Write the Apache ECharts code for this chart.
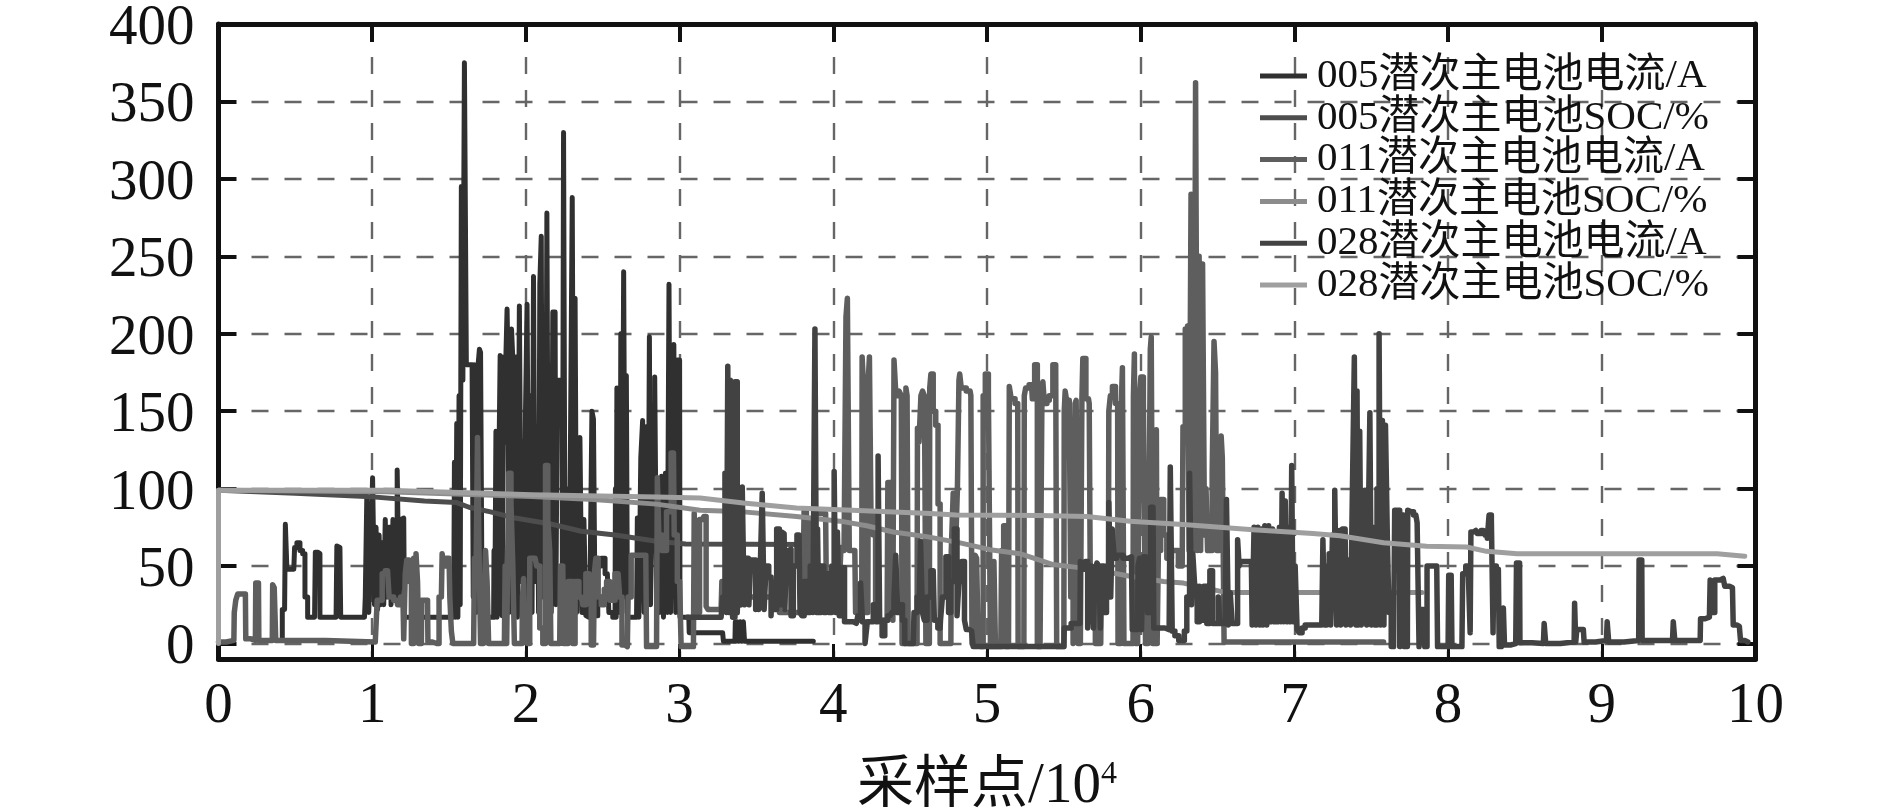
<!DOCTYPE html>
<html>
<head>
<meta charset="utf-8">
<style>html,body{margin:0;padding:0;background:#fff}#c{width:1890px;height:810px}</style>
<script src="https://cdn.jsdelivr.net/npm/echarts@6/dist/echarts.min.js"></script>
</head>
<body>
<div id="c"></div>
<script>
const seriesNames = ['005潜次主电池电流/A','005潜次主电池SOC/%','011潜次主电池电流/A','011潜次主电池SOC/%','028潜次主电池电流/A','028潜次主电池SOC/%'];
const yTicks = [0,50,100,150,200,250,300,350,400];

const current005 = [[0.4,2],[0.43,22],[0.44,77],[0.45,48],[0.49,48],[0.5,62],[0.52,65],[0.54,60],[0.555,58],[0.57,30],[0.59,17],[0.625,17],[0.635,59],[0.655,58],[0.665,17],[0.765,17],[0.775,63],[0.79,62],[0.80,17],[0.95,17],[0.96,30],[0.97,95],[0.985,20],[0.995,60],[1.01,107],[1.02,25],[1.03,75],[1.04,22],[1.05,70],[1.06,25],[1.07,65],[1.08,25],[1.09,80],[1.10,30],[1.115,75],[1.13,25],[1.14,80],[1.155,30],[1.17,112],[1.18,30],[1.19,80],[1.205,81],[1.215,17],[1.33,17],[1.53,17],[1.54,117],[1.545,17],[1.555,142],[1.56,17],[1.57,160],[1.575,25],[1.585,295],[1.595,170],[1.605,375],[1.62,180],[1.645,180],[1.655,176],[1.66,30],[1.67,180],[1.68,20],[1.695,178],[1.70,190],[1.71,188],[1.72,20],[1.735,17],[1.79,17],[1.795,60],[1.80,17],[1.81,137],[1.815,17],[1.83,100],[1.835,186],[1.84,186],[1.85,18],[1.86,185],[1.865,130],[1.875,186],[1.88,216],[1.885,186],[1.895,20],[1.90,190],[1.913,203],[1.92,180],[1.93,18],[1.94,185],[1.95,17],[1.965,218],[1.975,40],[1.985,130],[1.995,17],[2.0,150],[2.015,219],[2.025,30],[2.035,160],[2.045,20],[2.054,237],[2.065,40],[2.08,140],[2.085,20],[2.096,232],[2.104,263],[2.11,30],[2.125,190],[2.13,25],[2.143,278],[2.15,30],[2.16,150],[2.17,20],[2.18,214],[2.19,214],[2.2,25],[2.21,170],[2.22,170],[2.235,170],[2.24,30],[2.25,330],[2.26,25],[2.275,100],[2.285,20],[2.295,130],[2.308,288],[2.315,30],[2.325,223],[2.335,20],[2.345,110],[2.358,133],[2.37,20],[2.385,80],[2.395,18],[2.41,17],[2.425,40],[2.434,150],[2.445,145],[2.455,18],[2.48,50],[2.5,55],[2.53,45],[2.55,20],[2.58,17],[2.585,100],[2.59,17],[2.594,165],[2.6,20],[2.61,165],[2.615,20],[2.62,200],[2.63,20],[2.642,240],[2.65,30],[2.657,173],[2.665,17],[2.72,17],[2.73,81],[2.74,17],[2.755,120],[2.764,144],[2.775,20],[2.79,140],[2.8,25],[2.807,198],[2.815,25],[2.83,120],[2.846,172],[2.855,25],[2.865,90],[2.875,20],[2.89,108],[2.9,17],[2.915,110],[2.925,20],[2.937,232],[2.945,20],[2.955,150],[2.97,193],[2.98,20],[2.99,183],[3.0,183],[3.005,17],[3.06,17],[3.065,7],[3.28,7],[3.29,1.5],[3.36,1.5],[3.365,14],[3.37,1.5],[3.38,14],[3.39,1.5],[3.4,14],[3.41,1.5],[3.42,14],[3.425,1.5],[3.87,1.5]];

const soc005 = [[0,99],[0.5,97],[0.96,95],[1.34,92],[1.55,91],[1.63,88],[1.77,85],[1.93,81],[2.17,77],[2.36,72.5],[2.58,70],[2.85,66],[3.04,64.3],[3.87,64]];

const current011 = [[0,1],[0.1,2],[0.105,20],[0.12,28],[0.13,32],[0.175,32],[0.18,3],[0.24,2],[0.245,39],[0.26,39],[0.265,2],[0.35,2],[0.355,38],[0.37,36],[0.375,2],[1.02,1],[1.03,1],[1.035,28],[1.06,28],[1.07,45],[1.1,47],[1.12,30],[1.16,28],[1.17,25],[1.2,30],[1.21,3],[1.22,45],[1.23,54],[1.25,40],[1.26,0],[1.28,55],[1.29,58],[1.30,40],[1.305,0],[1.32,0],[1.325,28],[1.36,28],[1.365,1],[1.42,0],[1.45,30],[1.46,58],[1.475,50],[1.49,55],[1.5,55],[1.51,30],[1.52,8],[1.53,0],[1.66,0],[1.67,55],[1.68,40],[1.69,133],[1.70,60],[1.71,0],[1.735,0],[1.74,60],[1.755,40],[1.76,0],[1.86,0],[1.87,50],[1.88,0],[1.896,110],[1.91,90],[1.92,50],[1.93,0],[1.975,0],[1.98,30],[1.99,42],[2.0,5],[2.02,0],[2.03,55],[2.06,55],[2.08,50],[2.1,10],[2.12,0],[2.135,115],[2.15,80],[2.16,60],[2.165,0],[2.22,0],[2.23,50],[2.24,50],[2.25,0],[2.27,0],[2.28,40],[2.3,40],[2.31,0],[2.33,40],[2.36,30],[2.38,25],[2.4,45],[2.42,40],[2.43,-1],[2.44,-1],[2.45,45],[2.46,55],[2.48,30],[2.5,25],[2.52,35],[2.53,40],[2.56,28],[2.6,45],[2.62,30],[2.63,-1],[2.66,-2],[2.67,30],[2.7,57],[2.78,57],[2.79,-2],[2.85,-2],[2.86,107],[2.87,70],[2.9,60],[2.93,85],[2.96,123],[2.97,70],[3.0,40],[3.02,-2],[3.09,-2],[3.1,84],[3.11,20],[3.15,80],[3.165,82],[3.18,24],[3.19,22],[3.27,22],[3.28,40],[3.3,25],[3.5,30],[3.8,20],[3.82,86],[3.83,30],[3.86,80],[3.87,30],[3.9,84],[3.95,84],[3.96,30],[4.0,30],[4.04,40],[4.06,62],[4.08,60],[4.085,211],[4.098,223],[4.11,60],[4.14,60],[4.15,20],[4.185,15],[4.19,185],[4.2,170],[4.205,20],[4.225,20],[4.23,170],[4.24,185],[4.25,85],[4.27,70],[4.28,15],[4.35,15],[4.36,104],[4.385,90],[4.39,15],[4.40,183],[4.415,160],[4.44,163],[4.445,160],[4.45,0],[4.47,0],[4.475,165],[4.485,160],[4.49,0],[4.52,0],[4.545,0],[4.55,139],[4.565,130],[4.575,160],[4.586,163],[4.6,160],[4.605,0],[4.625,0],[4.63,165],[4.64,174],[4.66,150],[4.673,141],[4.69,90],[4.7,0],[4.765,0],[4.77,60],[4.79,97],[4.8,60],[4.815,100],[4.82,170],[4.825,174],[4.84,165],[4.89,163],[4.9,160],[4.905,0],[4.92,0],[4.925,57],[4.94,55],[4.945,0],[4.97,-2],[4.98,160],[4.998,174],[5.02,162],[5.025,-2],[5.04,-2],[5.05,53],[5.06,-2],[5.09,-2],[5.1,60],[5.117,76],[5.13,-2],[5.14,-2],[5.15,166],[5.165,158],[5.2,155],[5.205,-2],[5.24,-2],[5.245,160],[5.258,165],[5.29,167],[5.3,158],[5.32,180],[5.335,-2],[5.355,-2],[5.36,160],[5.367,169],[5.38,155],[5.4,157],[5.41,160],[5.447,180],[5.46,-2],[5.5,-2],[5.505,150],[5.512,163],[5.53,155],[5.54,157],[5.55,30],[5.57,0],[5.575,155],[5.585,157],[5.6,0],[5.615,0],[5.62,158],[5.627,184],[5.66,158],[5.67,155],[5.675,30],[5.70,30],[5.71,0],[5.74,0],[5.745,30],[5.79,30],[5.795,150],[5.81,160],[5.822,166],[5.85,155],[5.855,0],[5.87,0],[5.875,150],[5.887,178],[5.895,0],[5.95,0],[5.955,160],[5.963,187],[5.97,0],[5.99,0],[5.995,160],[6.007,172],[6.028,156],[6.035,0],[6.06,0],[6.065,190],[6.072,198],[6.085,0],[6.1,130],[6.104,138],[6.11,0],[6.12,60],[6.14,93],[6.16,70],[6.18,55],[6.22,60],[6.27,50],[6.28,140],[6.30,203],[6.31,205],[6.32,60],[6.335,290],[6.345,205],[6.35,60],[6.364,362],[6.375,60],[6.385,250],[6.395,60],[6.41,245],[6.42,70],[6.43,100],[6.44,60],[6.46,60],[6.47,110],[6.484,195],[6.49,175],[6.5,60],[6.52,120],[6.527,134],[6.535,120],[6.55,1],[6.56,1],[7.58,1]];

const soc011 = [[0,99],[1.09,98],[2.04,95],[2.44,93],[2.85,90],[3.133,86],[3.415,85],[3.76,82],[4.044,79],[4.218,76],[4.39,72],[4.608,69],[4.825,65],[5.02,60.6],[5.215,58],[5.43,51],[5.6,49],[5.844,45],[5.93,43.4],[6.148,40],[6.278,39],[6.55,33],[7.83,33]];

const current028 = [[3.05,17],[3.27,17],[3.29,30],[3.30,110],[3.31,20],[3.317,179],[3.325,20],[3.335,170],[3.34,120],[3.35,17],[3.37,169],[3.38,20],[3.39,50],[3.40,25],[3.415,101],[3.425,25],[3.435,55],[3.447,55],[3.455,25],[3.47,54],[3.49,54],[3.5,22],[3.51,45],[3.52,22],[3.53,50],[3.545,97],[3.555,22],[3.57,50],[3.59,43],[3.6,18],[3.61,40],[3.62,22],[3.643,74],[3.655,25],[3.67,72],[3.68,71],[3.69,22],[3.7,60],[3.72,61],[3.73,18],[3.75,50],[3.777,70],[3.79,20],[3.8,18],[3.82,40],[3.84,20],[3.86,50],[3.875,20],[3.886,203],[3.895,20],[3.9,74],[3.91,20],[3.93,50],[3.946,20],[3.96,45],[3.98,20],[4.0,50],[4.011,111],[4.02,20],[4.033,72],[4.045,18],[4.066,49],[4.08,14],[4.13,14],[4.15,13],[4.17,18],[4.185,39],[4.195,14],[4.218,0],[4.225,14],[4.25,14],[4.27,25],[4.285,14],[4.298,121],[4.305,15],[4.33,5],[4.34,15],[4.37,18],[4.39,20],[4.4,30],[4.413,57],[4.425,20],[4.44,25],[4.46,15],[4.47,0],[4.52,0],[4.53,20],[4.56,30],[4.575,66],[4.585,20],[4.6,15],[4.62,30],[4.65,47],[4.665,15],[4.695,10],[4.7,15],[4.72,30],[4.745,56],[4.755,20],[4.775,40],[4.8,74],[4.81,18],[4.825,40],[4.847,53],[4.86,15],[4.87,9],[4.9,8],[4.92,-2],[5.5,-2],[5.505,10],[5.59,13],[5.605,13],[5.61,53],[5.63,48],[5.65,53],[5.66,10],[5.67,50],[5.69,48],[5.695,10],[5.71,45],[5.72,52],[5.735,50],[5.74,10],[5.75,50],[5.77,20],[5.785,50],[5.8,91],[5.81,30],[5.82,74],[5.835,55],[5.85,57],[5.87,57],[5.9,55],[5.94,56],[5.95,9],[5.98,9],[5.985,50],[6.0,55],[6.01,9],[6.025,56],[6.04,56],[6.05,20],[6.08,88],[6.09,10],[6.115,10],[6.13,10],[6.185,9],[6.2,114],[6.21,8],[6.235,5],[6.26,2],[6.278,2],[6.29,8],[6.31,30],[6.326,110],[6.335,25],[6.343,58],[6.36,37],[6.375,14],[6.39,37],[6.4,15],[6.42,37],[6.44,13],[6.46,47],[6.475,13],[6.5,13],[6.51,30],[6.52,13],[6.55,13],[6.566,93],[6.575,12],[6.59,33],[6.6,13],[6.625,13],[6.636,67],[6.645,50],[6.657,53],[6.72,53],[6.73,12],[6.745,75],[6.755,12],[6.77,75],[6.78,12],[6.79,74],[6.80,12],[6.815,76],[6.825,12],[6.84,76],[6.85,14],[6.865,74],[6.875,14],[6.885,70],[6.895,14],[6.91,75],[6.915,14],[6.925,97],[6.935,14],[6.946,92],[6.955,14],[6.97,75],[6.978,14],[6.987,115],[6.995,14],[7.015,50],[7.02,9],[7.04,7],[7.06,10],[7.08,12],[7.178,12],[7.193,67],[7.2,12],[7.22,50],[7.232,58],[7.24,12],[7.255,70],[7.27,99],[7.28,12],[7.29,70],[7.297,73],[7.305,12],[7.32,74],[7.33,74],[7.34,12],[7.35,54],[7.36,54],[7.37,12],[7.385,100],[7.395,185],[7.405,12],[7.41,163],[7.42,12],[7.43,137],[7.44,12],[7.45,70],[7.466,99],[7.475,12],[7.485,70],[7.497,149],[7.505,12],[7.515,75],[7.53,12],[7.545,100],[7.557,200],[7.565,12],[7.58,144],[7.585,12],[7.6,141],[7.61,67],[7.62,20],[7.64,-2],[7.65,-2],[7.655,86],[7.68,86],[7.69,-2],[7.695,83],[7.71,83],[7.715,-2],[7.735,-2],[7.74,86],[7.76,85],[7.79,83],[7.807,78],[7.815,-2],[7.83,22],[7.84,22],[7.856,-2],[7.87,50],[7.926,50],[7.937,-2],[8.0,-2],[8.008,44],[8.02,44],[8.03,-2],[8.09,-2],[8.10,45],[8.13,50],[8.14,50],[8.147,7],[8.15,72],[8.18,73],[8.2,71],[8.23,73],[8.25,70],[8.26,68],[8.273,83],[8.29,80],[8.295,7],[8.3,50],[8.327,48],[8.338,-2],[8.355,-2],[8.364,23],[8.37,-1],[8.44,0],[8.45,52],[8.465,52],[8.47,0.5],[8.62,0],[8.63,13],[8.64,0],[8.82,1],[8.826,26],[8.835,1],[8.84,9],[8.88,9],[8.89,1],[9.03,2],[9.04,14],[9.05,1],[9.24,2],[9.245,54],[9.26,54],[9.265,2],[9.46,2],[9.47,14],[9.48,2],[9.64,2],[9.645,16],[9.7,17],[9.71,41],[9.72,20],[9.75,41],[9.79,42],[9.81,37],[9.85,36],[9.86,12],[9.895,11],[9.91,2],[9.95,1]];

const soc028 = [[0,0],[0,99],[1.09,99],[2.04,96],[2.85,94.6],[3.133,94],[3.415,90.7],[3.76,87.5],[4.044,86.4],[4.63,84],[4.8,83],[5.345,82.7],[5.65,82],[5.93,79],[6.3,76.7],[6.73,73.5],[7.12,71],[7.297,69.6],[7.58,65],[7.86,62.8],[8.12,62.3],[8.25,59.5],[8.45,58],[9.75,58],[9.93,56.3]];

const colors = ['#303030','#4d4d4d','#5e5e5e','#8c8c8c','#424242','#9f9f9f'];
const widths = [5,5,5.5,5,5.5,5];
const dataSets = [current005, soc005, current011, soc011, current028, soc028];

const FONT = "'Liberation Serif','Noto Sans CJK SC',serif";
const chart = echarts.init(document.getElementById('c'), null, {renderer:'canvas'});
const gridLine = {show:true, lineStyle:{color:'#666', width:2.4, type:[17,16]}};
const axisLine = {show:true, onZero:false, lineStyle:{color:'#111', width:5}};
const tick = w => ({show:true, inside:true, length:18, lineStyle:{color:'#111', width:w}});

chart.setOption({
  animation:false,
  backgroundColor:'#fff',
  textStyle:{fontFamily:FONT},
  grid:{left:218.5, right:134.5, top:24, bottom:151, containLabel:false, outerBoundsMode:'none'},
  legend:{
    orient:'vertical', left:1255, top:50.5, itemWidth:47, itemHeight:5, itemGap:0.8,
    icon:'rect', selectedMode:false,
    textStyle:{fontFamily:FONT, fontSize:41, lineHeight:41, color:'#111', padding:[0,0,0,5]},
    data:seriesNames.map((n,i)=>({name:n, itemStyle:{color:colors[i]}}))
  },
  xAxis:[{
    type:'value', min:0, max:10, interval:1, position:'bottom',
    name:'采样点/10{s|4}', nameLocation:'middle', nameGap:100,
    nameTextStyle:{fontFamily:FONT, fontSize:57, color:'#111',
      rich:{s:{fontFamily:FONT, fontSize:32, color:'#111', verticalAlign:'top', padding:[0,0,24,0]}}},
    axisLine, axisTick:{show:true, inside:true, length:15, lineStyle:{color:'#111', width:3}},
    axisLabel:{fontFamily:FONT, fontSize:57, color:'#111', margin:20, showMaxLabel:true, showMinLabel:true},
    splitLine:gridLine
  },{
    type:'value', min:0, max:10, interval:1, position:'top',
    axisLine, axisTick:tick(4),
    axisLabel:{show:false}, splitLine:{show:false}
  }],
  yAxis:[{
    type:'value', min:-10, max:400, position:'left',
    axisLine, axisTick:{...tick(4), customValues:yTicks},
    axisLabel:{fontFamily:FONT, fontSize:57, color:'#111', margin:24, verticalAlign:'top', lineHeight:10, customValues:yTicks},
    splitLine:gridLine
  },{
    type:'value', min:-10, max:400, position:'right',
    axisLine, axisTick:{...tick(4), customValues:yTicks},
    axisLabel:{show:false, customValues:yTicks}, splitLine:{show:false}
  }],
  series:dataSets.map((d,i)=>({
    name:seriesNames[i], type:'line', data:d, xAxisIndex:0, yAxisIndex:0,
    showSymbol:false, symbol:'none', sampling:null, smooth:false, z:3+i,
    step:i%2?false:'middle',
    lineStyle:{color:colors[i], width:widths[i], cap:'round', join:'round'},
    itemStyle:{color:colors[i]}, emphasis:{disabled:true}
  }))
});
</script>
</body>
</html>
